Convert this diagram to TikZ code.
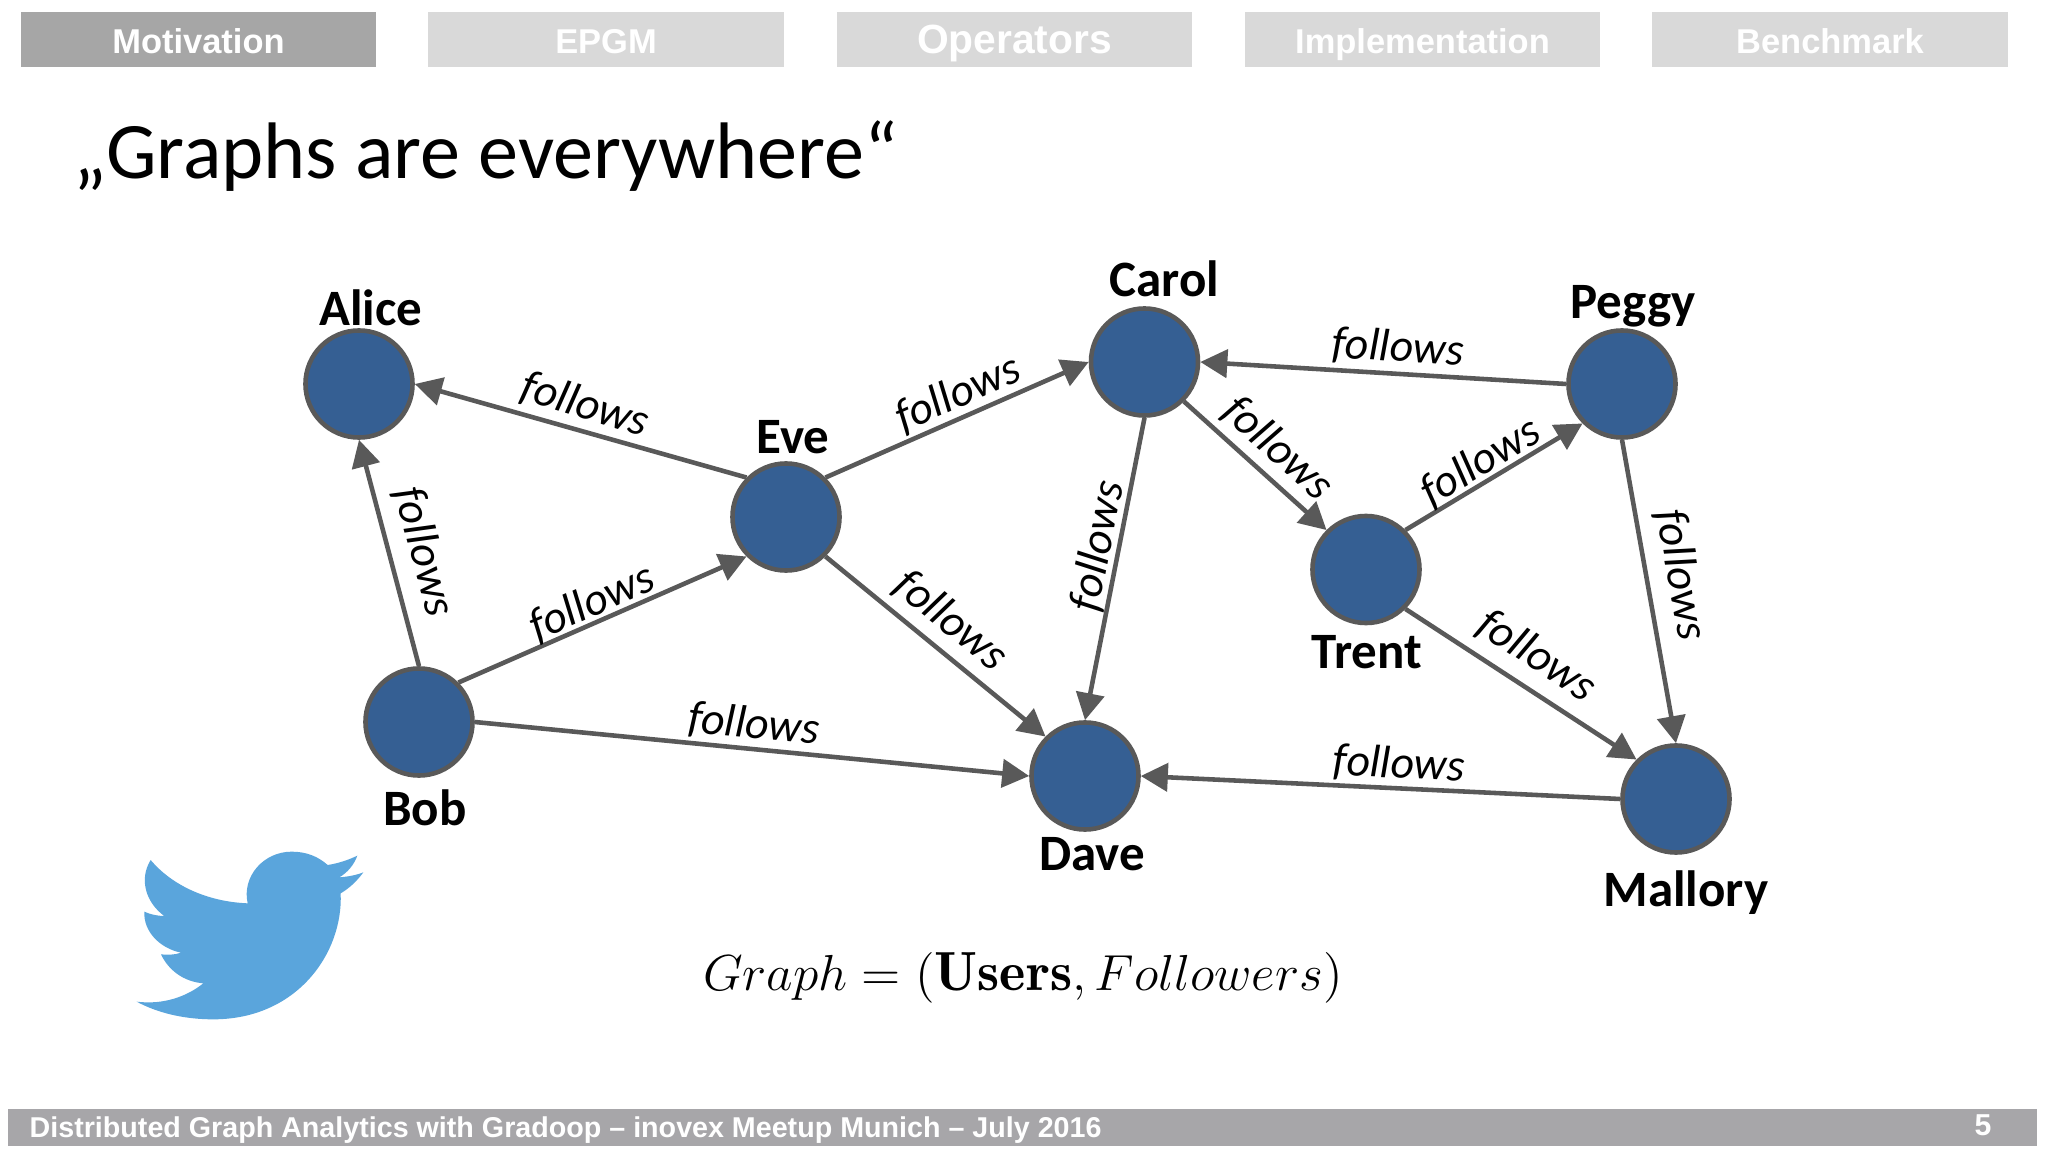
\documentclass[tikz,border=0pt]{standalone}
\usepackage{amsmath}
\usepackage{fontspec}
\setsansfont{Liberation Sans}
\newfontfamily\slidefont{Carlito}
\usetikzlibrary{arrows.meta}
\definecolor{usercolor}{HTML}{355F93}
\definecolor{edgecolor}{HTML}{595959}
\definecolor{activetab}{HTML}{A6A6A6}
\definecolor{idletab}{HTML}{D9D9D9}
\definecolor{footercolor}{HTML}{A7A6A9}
\definecolor{birdcolor}{HTML}{5AA5DC}

\begin{document}
\begin{tikzpicture}
	[
		x=0.01cm,
		y=-0.01cm,
		% A menu tab at the top of the slide.
		tabbox/.style={minimum width=3.55cm, minimum height=0.55cm, inner sep=0pt, text height=0.275cm, text depth=0pt, text=white, font=\sffamily\bfseries\fontsize{9.8}{10}\selectfont},
		% A user of the graph and the name beside it.
		user/.style={circle, draw=edgecolor, fill=usercolor, line width=1.3pt, minimum size=1.07cm, inner sep=0pt},
		username/.style={font=\slidefont\bfseries\fontsize{14.5}{15}\selectfont, inner sep=0pt},
		% One follows edge and its label.
		followsedge/.style={draw=edgecolor, line width=1.3pt, -{Triangle[length=0.27cm, width=0.28cm]}},
		followslabel/.style={font=\slidefont\itshape\fontsize{13}{13}\selectfont, inner sep=0pt}
	]
		\useasboundingbox (0,0) rectangle (2048,1152);
		\fill[white] (0,0) rectangle (2048,1152);

		% Menu
		\node[tabbox, fill=activetab] (motivation) at (198.5,39.5) {Motivation};
		\node[tabbox, fill=idletab] (epgm) at (606,39.5) {EPGM};
		\node[tabbox, fill=idletab, font=\sffamily\bfseries\fontsize{11.6}{12}\selectfont] (operators) at (1014.5,39.5) {Operators};
		\node[tabbox, fill=idletab] (implementation) at (1422.5,39.5) {Implementation};
		\node[tabbox, fill=idletab] (benchmark) at (1830,39.5) {Benchmark};

		\node[anchor=west, inner sep=0pt, font=\slidefont\fontsize{22.8}{23}\selectfont] (title) at (73,156) {„Graphs are everywhere“};

		% Users
		\node[user, label={[username, xshift=0.12cm, yshift=0.02cm]above:Alice}] (alice) at (359,384) {};
		\node[user, label={[username, xshift=0.07cm, yshift=0.065cm]above:Eve}] (eve) at (786,517) {};
		\node[user, label={[username, xshift=0.2cm, yshift=0.09cm]above:Carol}] (carol) at (1144.5,362) {};
		\node[user, label={[username, xshift=0.11cm]above:Peggy}] (peggy) at (1622,384) {};
		\node[user, label={[username, xshift=0.01cm, yshift=-0.09cm]below:Trent}] (trent) at (1366,569.5) {};
		\node[user, label={[username, xshift=0.06cm, yshift=-0.11cm]below:Bob}] (bob) at (419,722) {};
		\node[user, label={[username, xshift=0.07cm, yshift=-0.05cm]below:Dave}] (dave) at (1085,776) {};
		\node[user, label={[username, xshift=0.1cm, yshift=-0.15cm]below:Mallory}] (mallory) at (1676,799) {};

		% Edges
		\draw[followsedge] (bob.north) -- (alice.south);
		\draw[followsedge] (bob.north east) -- (eve.south west);
		\draw[followsedge] (bob.east) -- (dave.west);
		\draw[followsedge] (eve.north west) -- (alice.east);
		\draw[followsedge] (eve.north east) -- (carol.west);
		\draw[followsedge] (eve.south east) -- (dave.north west);
		\draw[followsedge] (carol.south) -- (dave.north);
		\draw[followsedge] (carol.south east) -- (trent.north west);
		\draw[followsedge] (peggy.west) -- (carol.east);
		\draw[followsedge] (trent.north east) -- (peggy.south west);
		\draw[followsedge] (trent.south east) -- (mallory.north west);
		\draw[followsedge] (peggy.south) -- (mallory.north);
		\draw[followsedge] (mallory.west) -- (dave.east);

		% Edge labels
		\node[followslabel, rotate=-75.3] (bobalice) at (424,552) {follows};
		\node[followslabel, rotate=23.9] (bobeve) at (592,603) {follows};
		\node[followslabel, rotate=-5.5] (bobdave) at (754,725) {follows};
		\node[followslabel, rotate=-17] (evealice) at (585,405) {follows};
		\node[followslabel, rotate=23.8] (evecarol) at (958,394) {follows};
		\node[followslabel, rotate=-39.2] (evedave) at (951,621) {follows};
		\node[followslabel, rotate=79] (caroldave) at (1098,546) {follows};
		\node[followslabel, rotate=-42] (caroltrent) at (1278,449) {follows};
		\node[followslabel, rotate=-3.4] (peggycarol) at (1398,348) {follows};
		\node[followslabel, rotate=31] (trentpeggy) at (1481,462) {follows};
		\node[followslabel, rotate=-33.2] (trentmallory) at (1537,656) {follows};
		\node[followslabel, rotate=-80] (peggymallory) at (1681,575) {follows};
		\node[followslabel, rotate=-2.8] (mallorydave) at (1399,765) {follows};

		\node[inner sep=0pt, font=\fontsize{15.7}{16}\selectfont] (formula) at (1023,978) {\scalebox{1.015}[1]{$Graph=(\mathbf{Users},Followers)$}};

		% Bird
		\begin{scope}[shift={(100,820)}, x=0.01cm/3, y=-0.01cm/3]
			\fill[birdcolor] (110,545)
				.. controls (190,555) and (260,530) .. (310,490)
				.. controls (250,485) and (205,450) .. (183,403)
				.. controls (200,405) and (225,405) .. (243,398)
				.. controls (180,385) and (130,335) .. (133,275)
				.. controls (150,283) and (172,288) .. (193,288)
				.. controls (140,250) and (115,180) .. (152,120)
				.. controls (215,195) and (320,245) .. (443,250)
				.. controls (425,170) and (490,95) .. (575,95)
				.. controls (620,95) and (655,110) .. (683,135)
				.. controls (715,130) and (745,120) .. (772,107)
				.. controls (762,135) and (742,158) .. (718,172)
				.. controls (745,170) and (770,165) .. (790,157)
				.. controls (772,182) and (748,205) .. (722,220)
				.. controls (730,400) and (590,598) .. (340,598)
				.. controls (255,598) and (175,580) .. (110,545) -- cycle;
		\end{scope}

		% Footer
		\fill[footercolor] (8,1109) rectangle (2037,1146);
		\node[anchor=west, inner sep=0pt, text=white, font=\sffamily\bfseries\fontsize{8.15}{9}\selectfont] (footer) at (29,1130) {Distributed Graph Analytics with Gradoop – inovex Meetup Munich – July 2016};
		\node[inner sep=0pt, text=white, font=\sffamily\bfseries\fontsize{8.6}{9}\selectfont] (pagenumber) at (1983,1125) {5};
	\end{tikzpicture}
\end{document}
